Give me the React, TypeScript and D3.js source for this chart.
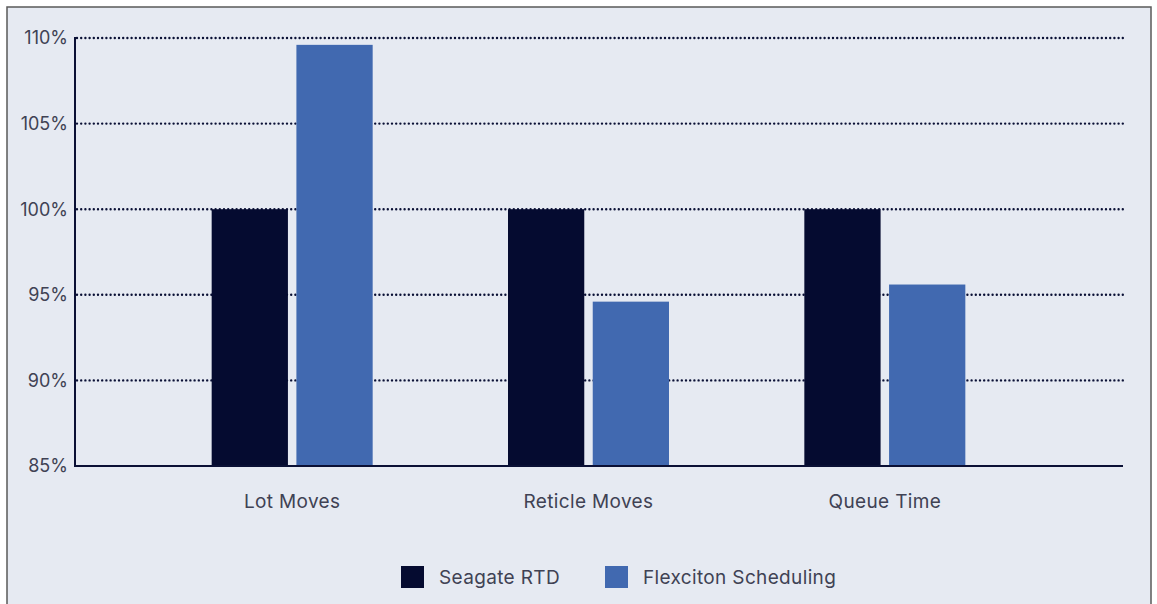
import React from "react";
import * as d3 from "d3";

const categories = ["Lot Moves", "Reticle Moves", "Queue Time"];
const seriesNames = ["Seagate RTD", "Flexciton Scheduling"];
const seagateRtd = [100, 100, 100];
const flexciton = [109.6, 94.6, 95.6];
const yTicks = [85, 90, 95, 100, 105, 110];

const W = 1157;
const H = 604;
const colors = ["#050b30", "#4169b0"];

export default function App() {
  const x0 = d3.scaleBand<string>().domain(categories).range([144, 1033]).paddingInner(0).paddingOuter(0);
  const groupW = 161;
  const x1 = d3
    .scaleBand<string>()
    .domain(seriesNames)
    .range([0, groupW])
    .paddingInner(0.1);
  const y = d3.scaleLinear().domain([85, 110]).range([466, 38]);
  const series = [seagateRtd, flexciton];
  const axisLeft = 75;
  const axisRight = 1123;
  const font = "Inter, 'Noto Sans', sans-serif";
  const textFill = "#404254";

  return (
    <svg
      width={W}
      height={H}
      style={{ position: "absolute", left: 0, top: 0, display: "block" }}
    >
      <rect x={0} y={0} width={W} height={H} fill="#ffffff" />
      <rect x={7} y={7} width={1144} height={H} fill="#e6eaf2" stroke="#5a5a5a" strokeWidth={1.5} />
      {/* dotted grid lines */}
      {yTicks
        .filter((t) => t !== 85)
        .map((t) => (
          <line
            key={t}
            x1={axisLeft + 2}
            x2={axisRight}
            y1={y(t)}
            y2={y(t)}
            stroke="#0a1035"
            strokeWidth={2.4}
            strokeLinecap="round"
            strokeDasharray="0 4.2"
          />
        ))}
      {/* bars */}
      {categories.map((c, i) => {
        const gx = (x0(c) as number) + x0.bandwidth() / 2 - groupW / 2;
        return seriesNames.map((s, j) => {
          const v = series[j][i];
          return (
            <rect
              key={c + s}
              x={gx + (x1(s) as number)}
              y={y(v)}
              width={x1.bandwidth()}
              height={y(85) - y(v)}
              fill={colors[j]}
            />
          );
        });
      })}
      {/* axes */}
      <line x1={axisLeft} x2={axisLeft} y1={37} y2={y(85) + 1} stroke="#0a1035" strokeWidth={2} />
      <line x1={axisLeft} x2={axisRight} y1={y(85)} y2={y(85)} stroke="#0a1035" strokeWidth={2} />
      {yTicks.map((t) => (
        <text
          key={t}
          x={68}
          y={y(t)}
          dy="0.35em"
          textAnchor="end"
          fontFamily={font}
          fontSize={18}
          fill={textFill}
        >
          {t}%
        </text>
      ))}
      {categories.map((c) => (
        <text
          key={c}
          x={(x0(c) as number) + x0.bandwidth() / 2}
          y={501}
          dy="0.35em"
          textAnchor="middle"
          fontFamily={font}
          fontSize={19}
          letterSpacing={0.35}
          fill={textFill}
        >
          {c}
        </text>
      ))}
      {/* legend */}
      {seriesNames.map((s, j) => {
        const lx = [401, 605][j];
        return (
          <g key={s}>
            <rect x={lx} y={566} width={23} height={22} fill={colors[j]} />
            <text
              x={lx + 38}
              y={577}
              dy="0.35em"
              fontFamily={font}
              fontSize={19}
              letterSpacing={0.35}
              fill={textFill}
            >
              {s}
            </text>
          </g>
        );
      })}
    </svg>
  );
}
